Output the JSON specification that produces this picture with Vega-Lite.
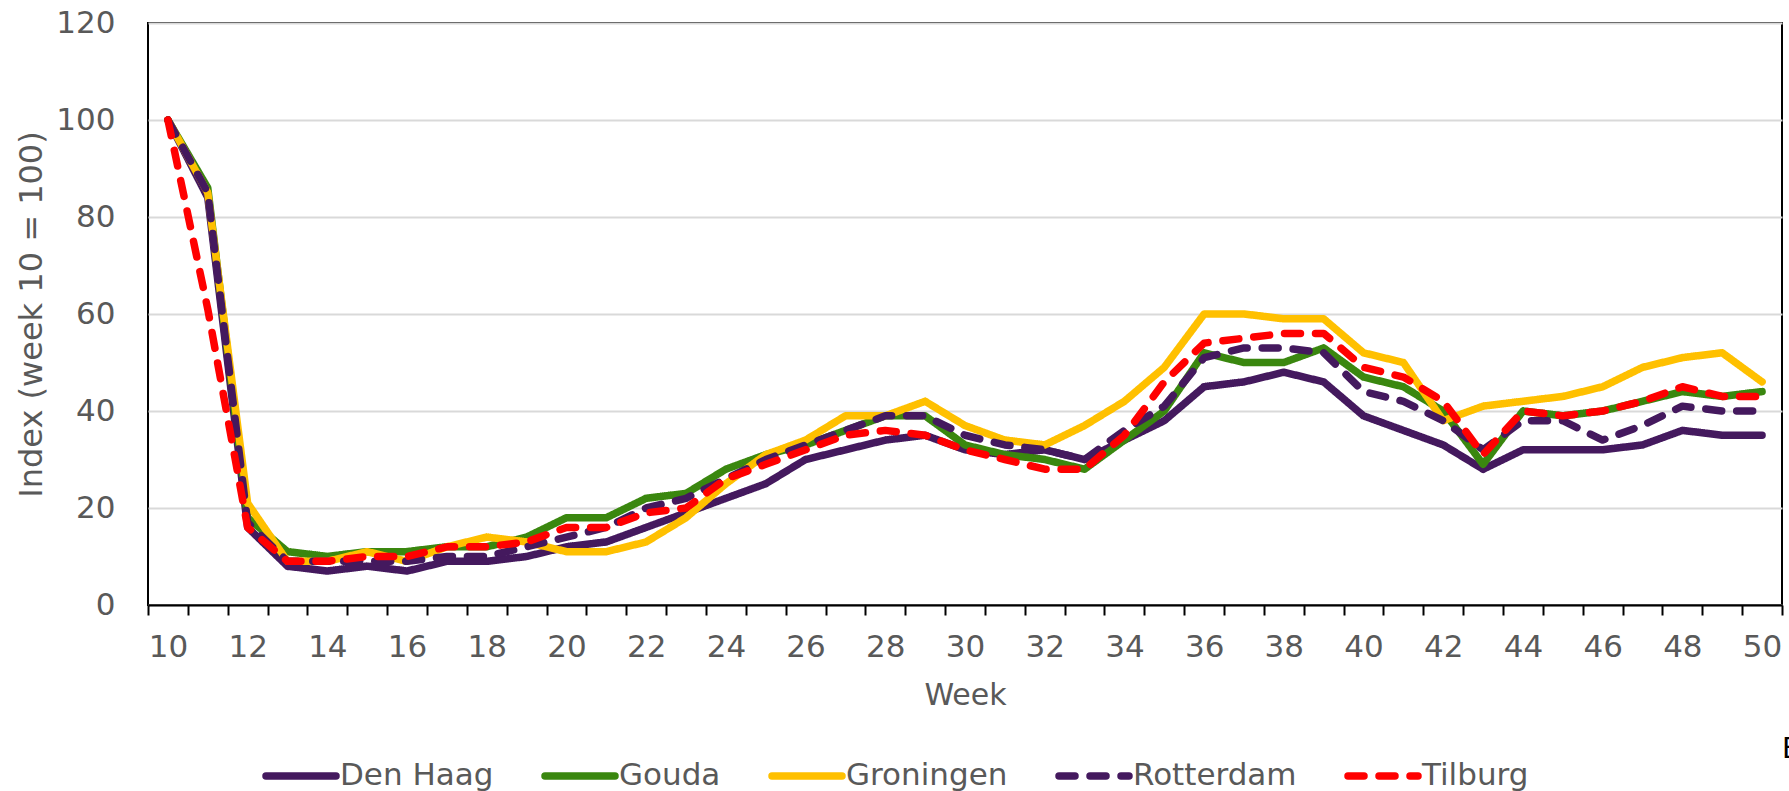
{
 "$schema": "https://vega.github.io/schema/vega-lite/v6.json",
 "width": 1634,
 "height": 582,
 "autosize": {"type": "none"},
 "padding": {"left": 148, "top": 23, "right": 7, "bottom": 186},
 "background": "white",
 "config": {
  "font": "DejaVu Sans",
  "view": {"stroke": "black", "strokeWidth": 2},
  "legend": {
   "orient": "none", "legendX": 114, "legendY": 714, "direction": "horizontal",
   "symbolType": "stroke", "symbolSize": 4900, "symbolStrokeWidth": 7.5,
   "labelFontSize": 31, "labelColor": "#595959", "labelFont": "DejaVu Sans",
   "labelOffset": 0, "columnPadding": 36, "labelLimit": 400
  }
 },
 "title": {"text": "E", "orient": "bottom", "anchor": "end", "align": "left", "frame": "group", "fontSize": 28, "fontWeight": "normal", "color": "black", "font": "DejaVu Sans", "baseline": "top", "offset": 0, "dy": -55},
 "data": {"values": [
  {"week":10,"city":"Den Haag","index":100},{"week":11,"city":"Den Haag","index":84},{"week":12,"city":"Den Haag","index":16},{"week":13,"city":"Den Haag","index":8},{"week":14,"city":"Den Haag","index":7},{"week":15,"city":"Den Haag","index":8},{"week":16,"city":"Den Haag","index":7},{"week":17,"city":"Den Haag","index":9},{"week":18,"city":"Den Haag","index":9},{"week":19,"city":"Den Haag","index":10},{"week":20,"city":"Den Haag","index":12},{"week":21,"city":"Den Haag","index":13},{"week":22,"city":"Den Haag","index":16},{"week":23,"city":"Den Haag","index":19},{"week":24,"city":"Den Haag","index":22},{"week":25,"city":"Den Haag","index":25},{"week":26,"city":"Den Haag","index":30},{"week":27,"city":"Den Haag","index":32},{"week":28,"city":"Den Haag","index":34},{"week":29,"city":"Den Haag","index":35},{"week":30,"city":"Den Haag","index":32},{"week":31,"city":"Den Haag","index":31},{"week":32,"city":"Den Haag","index":32},{"week":33,"city":"Den Haag","index":30},{"week":34,"city":"Den Haag","index":34},{"week":35,"city":"Den Haag","index":38},{"week":36,"city":"Den Haag","index":45},{"week":37,"city":"Den Haag","index":46},{"week":38,"city":"Den Haag","index":48},{"week":39,"city":"Den Haag","index":46},{"week":40,"city":"Den Haag","index":39},{"week":41,"city":"Den Haag","index":36},{"week":42,"city":"Den Haag","index":33},{"week":43,"city":"Den Haag","index":28},{"week":44,"city":"Den Haag","index":32},{"week":45,"city":"Den Haag","index":32},{"week":46,"city":"Den Haag","index":32},{"week":47,"city":"Den Haag","index":33},{"week":48,"city":"Den Haag","index":36},{"week":49,"city":"Den Haag","index":35},{"week":50,"city":"Den Haag","index":35},
  {"week":10,"city":"Gouda","index":100},{"week":11,"city":"Gouda","index":86},{"week":12,"city":"Gouda","index":18},{"week":13,"city":"Gouda","index":11},{"week":14,"city":"Gouda","index":10},{"week":15,"city":"Gouda","index":11},{"week":16,"city":"Gouda","index":11},{"week":17,"city":"Gouda","index":12},{"week":18,"city":"Gouda","index":12},{"week":19,"city":"Gouda","index":14},{"week":20,"city":"Gouda","index":18},{"week":21,"city":"Gouda","index":18},{"week":22,"city":"Gouda","index":22},{"week":23,"city":"Gouda","index":23},{"week":24,"city":"Gouda","index":28},{"week":25,"city":"Gouda","index":31},{"week":26,"city":"Gouda","index":33},{"week":27,"city":"Gouda","index":36},{"week":28,"city":"Gouda","index":39},{"week":29,"city":"Gouda","index":39},{"week":30,"city":"Gouda","index":33},{"week":31,"city":"Gouda","index":31},{"week":32,"city":"Gouda","index":30},{"week":33,"city":"Gouda","index":28},{"week":34,"city":"Gouda","index":34},{"week":35,"city":"Gouda","index":40},{"week":36,"city":"Gouda","index":52},{"week":37,"city":"Gouda","index":50},{"week":38,"city":"Gouda","index":50},{"week":39,"city":"Gouda","index":53},{"week":40,"city":"Gouda","index":47},{"week":41,"city":"Gouda","index":45},{"week":42,"city":"Gouda","index":40},{"week":43,"city":"Gouda","index":29},{"week":44,"city":"Gouda","index":40},{"week":45,"city":"Gouda","index":39},{"week":46,"city":"Gouda","index":40},{"week":47,"city":"Gouda","index":42},{"week":48,"city":"Gouda","index":44},{"week":49,"city":"Gouda","index":43},{"week":50,"city":"Gouda","index":44},
  {"week":10,"city":"Groningen","index":100},{"week":11,"city":"Groningen","index":85},{"week":12,"city":"Groningen","index":21},{"week":13,"city":"Groningen","index":9},{"week":14,"city":"Groningen","index":9},{"week":15,"city":"Groningen","index":11},{"week":16,"city":"Groningen","index":9},{"week":17,"city":"Groningen","index":12},{"week":18,"city":"Groningen","index":14},{"week":19,"city":"Groningen","index":13},{"week":20,"city":"Groningen","index":11},{"week":21,"city":"Groningen","index":11},{"week":22,"city":"Groningen","index":13},{"week":23,"city":"Groningen","index":18},{"week":24,"city":"Groningen","index":25},{"week":25,"city":"Groningen","index":31},{"week":26,"city":"Groningen","index":34},{"week":27,"city":"Groningen","index":39},{"week":28,"city":"Groningen","index":39},{"week":29,"city":"Groningen","index":42},{"week":30,"city":"Groningen","index":37},{"week":31,"city":"Groningen","index":34},{"week":32,"city":"Groningen","index":33},{"week":33,"city":"Groningen","index":37},{"week":34,"city":"Groningen","index":42},{"week":35,"city":"Groningen","index":49},{"week":36,"city":"Groningen","index":60},{"week":37,"city":"Groningen","index":60},{"week":38,"city":"Groningen","index":59},{"week":39,"city":"Groningen","index":59},{"week":40,"city":"Groningen","index":52},{"week":41,"city":"Groningen","index":50},{"week":42,"city":"Groningen","index":38},{"week":43,"city":"Groningen","index":41},{"week":44,"city":"Groningen","index":42},{"week":45,"city":"Groningen","index":43},{"week":46,"city":"Groningen","index":45},{"week":47,"city":"Groningen","index":49},{"week":48,"city":"Groningen","index":51},{"week":49,"city":"Groningen","index":52},{"week":50,"city":"Groningen","index":46},
  {"week":10,"city":"Rotterdam","index":100},{"week":11,"city":"Rotterdam","index":85},{"week":12,"city":"Rotterdam","index":17},{"week":13,"city":"Rotterdam","index":9},{"week":14,"city":"Rotterdam","index":9},{"week":15,"city":"Rotterdam","index":9},{"week":16,"city":"Rotterdam","index":9},{"week":17,"city":"Rotterdam","index":10},{"week":18,"city":"Rotterdam","index":10},{"week":19,"city":"Rotterdam","index":12},{"week":20,"city":"Rotterdam","index":14},{"week":21,"city":"Rotterdam","index":16},{"week":22,"city":"Rotterdam","index":20},{"week":23,"city":"Rotterdam","index":22},{"week":24,"city":"Rotterdam","index":26},{"week":25,"city":"Rotterdam","index":30},{"week":26,"city":"Rotterdam","index":33},{"week":27,"city":"Rotterdam","index":36},{"week":28,"city":"Rotterdam","index":39},{"week":29,"city":"Rotterdam","index":39},{"week":30,"city":"Rotterdam","index":35},{"week":31,"city":"Rotterdam","index":33},{"week":32,"city":"Rotterdam","index":32},{"week":33,"city":"Rotterdam","index":30},{"week":34,"city":"Rotterdam","index":36},{"week":35,"city":"Rotterdam","index":41},{"week":36,"city":"Rotterdam","index":51},{"week":37,"city":"Rotterdam","index":53},{"week":38,"city":"Rotterdam","index":53},{"week":39,"city":"Rotterdam","index":52},{"week":40,"city":"Rotterdam","index":44},{"week":41,"city":"Rotterdam","index":42},{"week":42,"city":"Rotterdam","index":38},{"week":43,"city":"Rotterdam","index":32},{"week":44,"city":"Rotterdam","index":38},{"week":45,"city":"Rotterdam","index":38},{"week":46,"city":"Rotterdam","index":34},{"week":47,"city":"Rotterdam","index":37},{"week":48,"city":"Rotterdam","index":41},{"week":49,"city":"Rotterdam","index":40},{"week":50,"city":"Rotterdam","index":40},
  {"week":10,"city":"Tilburg","index":100},{"week":11,"city":"Tilburg","index":61},{"week":12,"city":"Tilburg","index":16},{"week":13,"city":"Tilburg","index":9},{"week":14,"city":"Tilburg","index":9},{"week":15,"city":"Tilburg","index":10},{"week":16,"city":"Tilburg","index":10},{"week":17,"city":"Tilburg","index":12},{"week":18,"city":"Tilburg","index":12},{"week":19,"city":"Tilburg","index":13},{"week":20,"city":"Tilburg","index":16},{"week":21,"city":"Tilburg","index":16},{"week":22,"city":"Tilburg","index":19},{"week":23,"city":"Tilburg","index":20},{"week":24,"city":"Tilburg","index":26},{"week":25,"city":"Tilburg","index":29},{"week":26,"city":"Tilburg","index":32},{"week":27,"city":"Tilburg","index":35},{"week":28,"city":"Tilburg","index":36},{"week":29,"city":"Tilburg","index":35},{"week":30,"city":"Tilburg","index":32},{"week":31,"city":"Tilburg","index":30},{"week":32,"city":"Tilburg","index":28},{"week":33,"city":"Tilburg","index":28},{"week":34,"city":"Tilburg","index":35},{"week":35,"city":"Tilburg","index":46},{"week":36,"city":"Tilburg","index":54},{"week":37,"city":"Tilburg","index":55},{"week":38,"city":"Tilburg","index":56},{"week":39,"city":"Tilburg","index":56},{"week":40,"city":"Tilburg","index":49},{"week":41,"city":"Tilburg","index":47},{"week":42,"city":"Tilburg","index":42},{"week":43,"city":"Tilburg","index":31},{"week":44,"city":"Tilburg","index":40},{"week":45,"city":"Tilburg","index":39},{"week":46,"city":"Tilburg","index":40},{"week":47,"city":"Tilburg","index":42},{"week":48,"city":"Tilburg","index":45},{"week":49,"city":"Tilburg","index":43},{"week":50,"city":"Tilburg","index":43}
 ]},
 "mark": {"type": "line", "strokeWidth": 7.5, "strokeCap": "round", "strokeJoin": "round"},
 "encoding": {
  "x": {
   "field": "week", "type": "quantitative",
   "scale": {"domain": [9.5, 50.5], "nice": false, "zero": false},
   "axis": {
    "title": "Week",
    "values": [9.5,10.5,11.5,12.5,13.5,14.5,15.5,16.5,17.5,18.5,19.5,20.5,21.5,22.5,23.5,24.5,25.5,26.5,27.5,28.5,29.5,30.5,31.5,32.5,33.5,34.5,35.5,36.5,37.5,38.5,39.5,40.5,41.5,42.5,43.5,44.5,45.5,46.5,47.5,48.5,49.5,50.5],
    "labelExpr": "(datum.value - 9.5) % 2 == 0 && datum.value < 50 ? '' + (datum.value + 0.5) : ''",
    "labelOffset": 19.93,
    "labelOverlap": false, "labelFlush": false, "labelBound": false,
    "grid": false,
    "domain": true, "domainColor": "black", "domainWidth": 2,
    "ticks": true, "tickColor": "black", "tickWidth": 2, "tickSize": 10,
    "labelFontSize": 31, "labelColor": "#595959", "labelFont": "DejaVu Sans", "labelPadding": 17,
    "titleFontSize": 30, "titleColor": "#595959", "titleFont": "DejaVu Sans", "titleFontWeight": "normal", "titlePadding": 18
   }
  },
  "y": {
   "field": "index", "type": "quantitative",
   "scale": {"domain": [0, 120], "nice": false},
   "axis": {
    "title": "Index (week 10 = 100)",
    "values": [0, 20, 40, 60, 80, 100, 120],
    "grid": true, "gridColor": "#D9D9D9", "gridWidth": 2,
    "ticks": false, "domain": false,
    "labelFontSize": 31, "labelColor": "#595959", "labelFont": "DejaVu Sans", "labelPadding": 33,
    "titleFontSize": 32, "titleColor": "#595959", "titleFont": "DejaVu Sans", "titleFontWeight": "normal", "titlePadding": 7
   }
  },
  "color": {
   "field": "city", "type": "nominal",
   "scale": {"domain": ["Den Haag", "Gouda", "Groningen", "Rotterdam", "Tilburg"], "range": ["#44195E", "#3A870F", "#FFC000", "#44195E", "#FF0000"]},
   "legend": {"title": null, "encode": {"symbols": {"update": {"strokeCap": {"value": "round"}}}}}
  },
  "strokeDash": {
   "field": "city", "type": "nominal",
   "scale": {"domain": ["Den Haag", "Gouda", "Groningen", "Rotterdam", "Tilburg"], "range": [[1, 0], [1, 0], [1, 0], [16, 15], [16, 15]]},
   "legend": {"title": null}
  }
 }
}
